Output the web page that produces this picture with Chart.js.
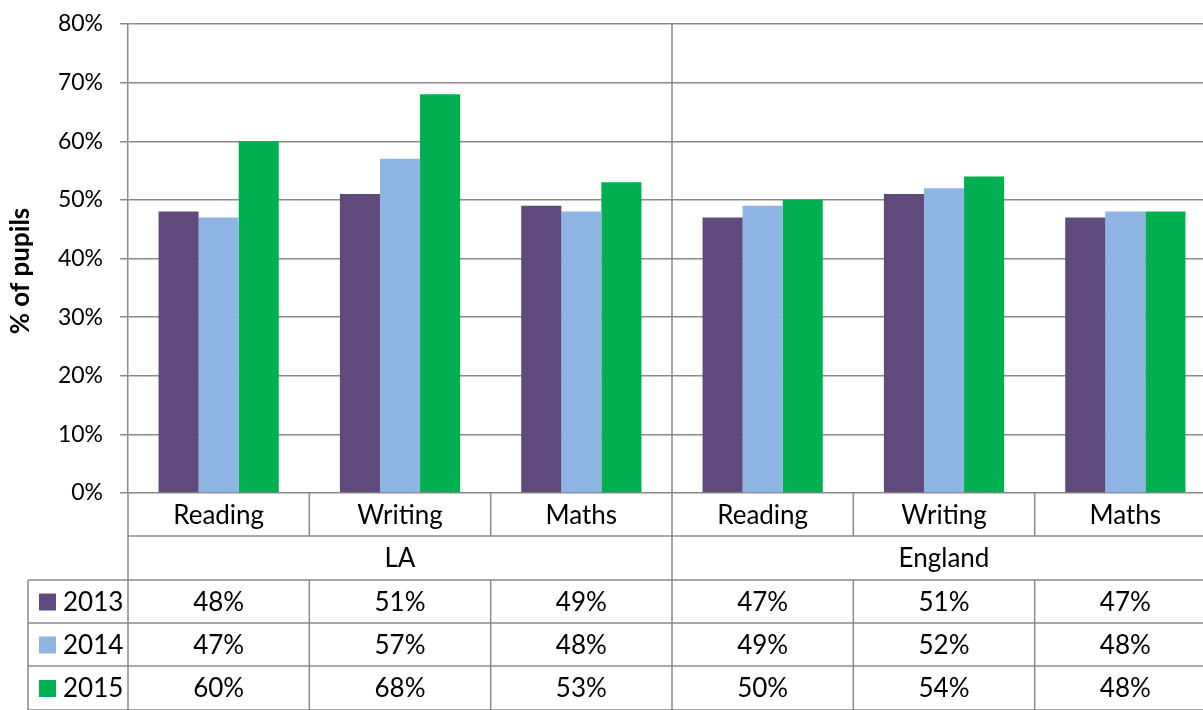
<!DOCTYPE html>
<html>
<head>
<meta charset="utf-8">
<script src="https://cdn.jsdelivr.net/npm/chart.js@4"></script>
<style>
html, body { margin: 0; padding: 0; overflow: hidden; background: #fff; }
</style>
</head>
<body>
<canvas id="chart" width="1240" height="710"></canvas>
<script>
var categories = ["Reading", "Writing", "Maths", "Reading", "Writing", "Maths"];
var groups = ["LA", "England"];
var years = ["2013", "2014", "2015"];
var values2013 = [48, 51, 49, 47, 51, 47];
var values2014 = [47, 57, 48, 49, 52, 48];
var values2015 = [60, 68, 53, 50, 54, 48];
var colours = ["#604a7b", "#8eb4e3", "#00b050"];
var yMax = 80;
var yStep = 10;

var font = "Lato, 'Liberation Sans', sans-serif";
var lineCol = "#8a8a8a";

// draws the data table under the plot, like excel does
var tablePlugin = {
    id: "table",
    afterDraw: function (chart) {
        var c = chart.ctx;
        var x = chart.scales.x;
        var area = chart.chartArea;
        var colW = x.width / categories.length;
        var edge = function (i) { return area.left + i * colW; };
        var rows = [area.bottom, 536, 580, 623, 666, 710];
        var series = [values2013, values2014, values2015];
        var legendLeft = 28;

        c.save();
        c.strokeStyle = lineCol;
        c.lineWidth = 1.5;
        c.beginPath();
        // divider between groups through plot
        c.moveTo(edge(3), area.top);
        c.lineTo(edge(3), 710);
        // left edge
        c.moveTo(edge(0), area.bottom);
        c.lineTo(edge(0), 710);
        // row lines
        c.moveTo(edge(0), rows[1]); c.lineTo(area.right, rows[1]);
        for (var r = 2; r < rows.length; r++) {
            c.moveTo(legendLeft, rows[r]); c.lineTo(area.right, rows[r]);
        }
        c.moveTo(legendLeft, rows[2]); c.lineTo(legendLeft, 710);
        // category separators
        for (var i = 1; i < categories.length; i++) {
            if (i == 3) continue;
            c.moveTo(edge(i), rows[0]); c.lineTo(edge(i), rows[1]);
            c.moveTo(edge(i), rows[2]); c.lineTo(edge(i), 710);
        }
        c.stroke();

        c.fillStyle = "#000";
        c.font = "26px " + font;
        c.textAlign = "center";
        c.textBaseline = "middle";
        for (var i = 0; i < categories.length; i++) {
            var cx = x.getPixelForValue(i);
            c.fillText(categories[i], cx, (rows[0] + rows[1]) / 2 + 1);
            for (var s = 0; s < series.length; s++) {
                c.fillText(series[s][i] + "%", cx, (rows[s + 2] + rows[s + 3]) / 2 + 1);
            }
        }
        for (var g = 0; g < groups.length; g++) {
            c.fillText(groups[g], (edge(g * 3) + edge(g * 3 + 3)) / 2, (rows[1] + rows[2]) / 2 + 1);
        }
        // legend keys
        c.textAlign = "left";
        for (var s = 0; s < years.length; s++) {
            var cy = (rows[s + 2] + rows[s + 3]) / 2;
            c.fillStyle = colours[s];
            c.fillRect(39, cy - 8, 17, 17);
            c.fillStyle = "#000";
            c.fillText(years[s], 63, cy + 1);
        }
        // axis title
        c.translate(21, 271);
        c.rotate(-Math.PI / 2);
        c.textAlign = "center";
        c.font = "bold 26px " + font;
        c.fillText("% of pupils", 0, 0);
        c.restore();
    }
};

var ctx = document.getElementById("chart").getContext("2d");
var myChart = new Chart(ctx, {
    type: "bar",
    data: {
        labels: categories,
        datasets: [
            { label: years[0], data: values2013, backgroundColor: colours[0] },
            { label: years[1], data: values2014, backgroundColor: colours[1] },
            { label: years[2], data: values2015, backgroundColor: colours[2] }
        ]
    },
    options: {
        responsive: false,
        animation: false,
        layout: { padding: { top: 24, right: 24, bottom: 217, left: 0 } },
        datasets: { bar: { barPercentage: 1, categoryPercentage: 0.663 } },
        plugins: { legend: { display: false }, tooltip: { enabled: false } },
        scales: {
            x: { display: false },
            y: {
                min: 0,
                max: yMax,
                ticks: {
                    stepSize: yStep,
                    padding: 17,
                    color: "#000",
                    font: { family: font, size: 23 },
                    callback: function (v) { return v + "%"; }
                },
                grid: { color: lineCol, lineWidth: 1.5, tickLength: 8 },
                border: { color: lineCol, width: 1.5 },
                afterFit: function (scale) {
                    scale.width = 128;
                    // tick padding otherwise pushes the plot down
                    scale.paddingTop = 0;
                    scale.paddingBottom = 0;
                }
            }
        }
    },
    plugins: [tablePlugin]
});
</script>
</body>
</html>
